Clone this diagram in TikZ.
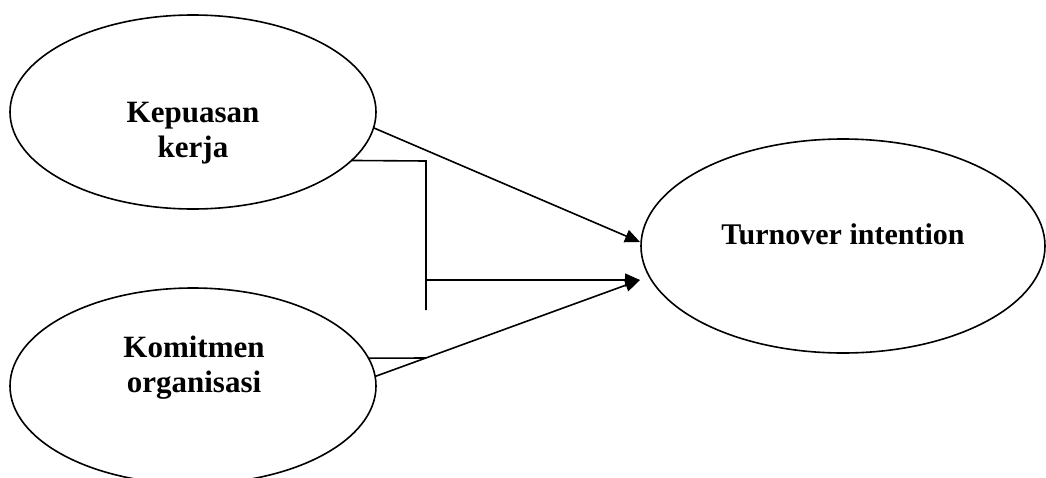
\documentclass[tikz,border=0pt]{standalone}
\usepackage{fontspec}
\setmainfont{Liberation Serif}
\usetikzlibrary{shapes.geometric,arrows.meta}
\begin{document}
\begin{tikzpicture}[x=1pt,y=-1pt,
  oval/.style={draw, ellipse, line width=1.6pt, inner sep=0pt, outer sep=0pt},
  lbl/.style={font=\fontsize{31}{35}\selectfont\bfseries, align=center, inner sep=0pt},
  conn/.style={line width=1.6pt},
  arr/.style={conn, -{Triangle[length=15pt,width=13pt]}}]
\useasboundingbox (0,0) rectangle (1046,477);
\node[oval, minimum width=366pt, minimum height=194pt] (e1) at (193,112) {};
\node[oval, minimum width=366pt, minimum height=196pt] (e2) at (193,386) {};
\node[oval, minimum width=404pt, minimum height=214pt] (e3) at (843,246) {};
\node[lbl] (l1) at (193,133) {Kepuasan\\kerja};
\node[lbl] (l2) at (194,368) {Komitmen\\organisasi};
\node[lbl, font=\fontsize{30}{34}\selectfont\bfseries, anchor=base] (l3) at (843,244) {Turnover intention};
\coordinate (j1) at (426,161);
\coordinate (j2) at (426,310);
\coordinate (j3) at (426,280);
\coordinate (j4) at (426,358);
\coordinate (t1) at (640,242);
\coordinate (t2) at (640,280);
\draw[arr] (e1.-5) -- (t1);
\draw[conn] (e1.-17) -- (j1) -- (j2);
\draw[arr] (j3) -- (t2);
\draw[conn] (e2.9) -- (j4);
\draw[arr] (e2.3) -- (t2);
\end{tikzpicture}
\end{document}
